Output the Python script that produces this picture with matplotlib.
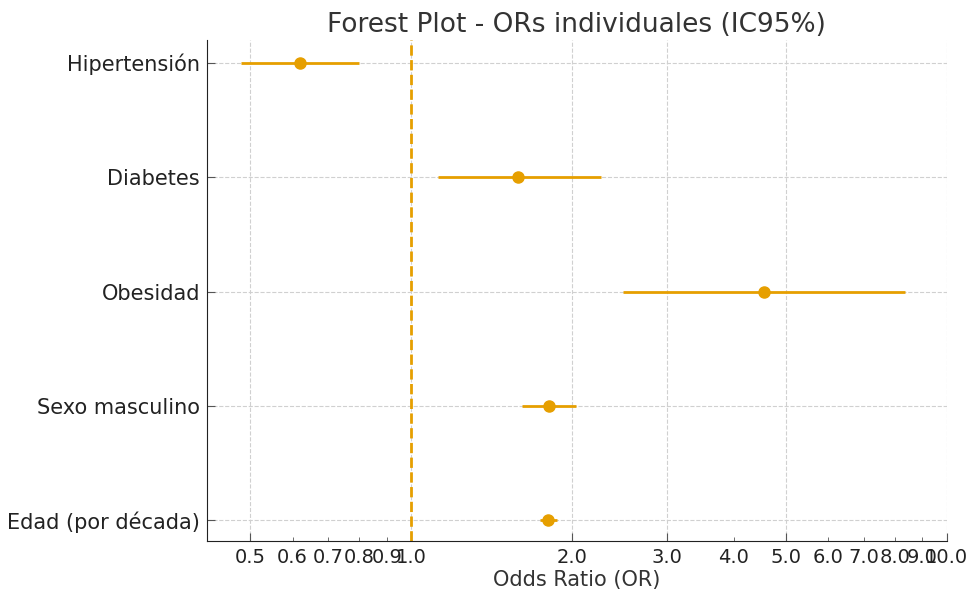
import numpy as np
import matplotlib.pyplot as plt
from matplotlib.ticker import FormatStrFormatter, FixedLocator

variables = ['Hipertensión', 'Diabetes', 'Obesidad', 'Sexo masculino', 'Edad (por década)']
odds_ratio = [0.62, 1.58, 4.55, 1.81, 1.80]
ic_inf = [0.48, 1.12, 2.48, 1.61, 1.74]
ic_sup = [0.80, 2.26, 8.35, 2.03, 1.87]

color = '#E69F00'
texto = '#333333'

y = np.arange(len(variables))[::-1]
odds = np.array(odds_ratio)
err = [odds - np.array(ic_inf), np.array(ic_sup) - odds]

fig, ax = plt.subplots(figsize=(9.71, 5.95), dpi=100)
fig.subplots_adjust(left=0.213, right=0.975, top=0.933, bottom=0.091)

ax.errorbar(odds, y, xerr=err, fmt='o', color=color, ecolor=color,
            elinewidth=2, markersize=8, capsize=0, zorder=3)
ax.axvline(1.0, color=color, linestyle='--', linewidth=2, zorder=2)

ax.set_xscale('log')
ax.set_xlim(0.415, 10.0)
ax.set_ylim(-0.18, 4.2)
ax.xaxis.set_major_locator(FixedLocator([0.5, 1, 2, 3, 5, 10]))
ax.xaxis.set_minor_locator(FixedLocator([0.6, 0.7, 0.8, 0.9, 4, 6, 7, 8, 9]))
ax.xaxis.set_major_formatter(FormatStrFormatter('%.1f'))
ax.xaxis.set_minor_formatter(FormatStrFormatter('%.1f'))

ax.set_yticks(y)
ax.set_yticklabels(variables)

ax.tick_params(axis='both', which='both', direction='in', color='#555555', labelcolor='#222222')
ax.tick_params(axis='x', which='major', length=6, labelsize=14, pad=5)
ax.tick_params(axis='x', which='minor', length=3, labelsize=14, pad=5)
ax.tick_params(axis='y', length=6, labelsize=15, pad=5)

ax.grid(True, which='major', linestyle='--', color='#d0d0d0', linewidth=0.8)
ax.set_axisbelow(True)
for s in ['top', 'right']:
    ax.spines[s].set_visible(False)
for s in ['left', 'bottom']:
    ax.spines[s].set_color('#222222')

ax.set_xlabel('Odds Ratio (OR)', fontsize=15, color=texto, labelpad=2)
ax.set_title('Forest Plot - ORs individuales (IC95%)', fontsize=19, color=texto, pad=6)

plt.savefig('out.png', dpi=100)
